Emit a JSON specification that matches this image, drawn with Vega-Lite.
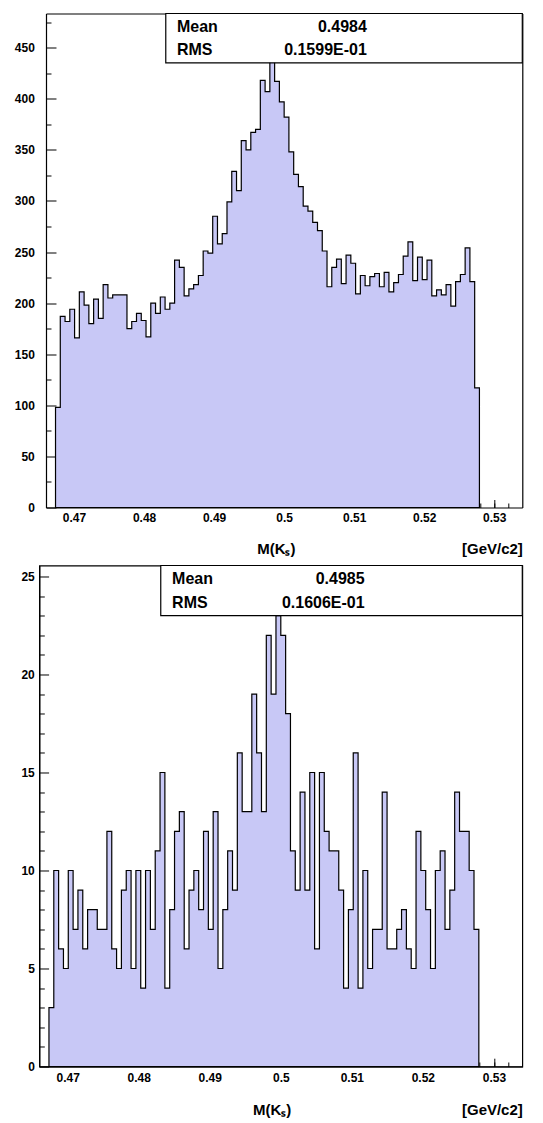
{
  "$schema": "https://vega.github.io/schema/vega-lite/v6.json",
  "background": "white",
  "padding": {"left": 13.3, "top": 12.5, "right": 0, "bottom": 0},
  "columns": 1,
  "align": "none",
  "spacing": 6,
  "datasets": {
    "bins": [
      {"lo":0.46736,"hi":0.46804,"a":98,"b":3},
      {"lo":0.46804,"hi":0.46872,"a":187,"b":10},
      {"lo":0.46872,"hi":0.4694,"a":182,"b":6},
      {"lo":0.4694,"hi":0.47008,"a":194,"b":5},
      {"lo":0.47008,"hi":0.47076,"a":166,"b":10},
      {"lo":0.47076,"hi":0.47144,"a":211,"b":7},
      {"lo":0.47144,"hi":0.47212,"a":198,"b":9},
      {"lo":0.47212,"hi":0.4728,"a":180,"b":6},
      {"lo":0.4728,"hi":0.47348,"a":204,"b":8},
      {"lo":0.47348,"hi":0.47416,"a":185,"b":8},
      {"lo":0.47416,"hi":0.47484,"a":218,"b":7},
      {"lo":0.47484,"hi":0.47552,"a":205,"b":7},
      {"lo":0.47552,"hi":0.4762,"a":208,"b":12},
      {"lo":0.4762,"hi":0.47688,"a":208,"b":6},
      {"lo":0.47688,"hi":0.47756,"a":208,"b":5},
      {"lo":0.47756,"hi":0.47824,"a":175,"b":9},
      {"lo":0.47824,"hi":0.47892,"a":182,"b":10},
      {"lo":0.47892,"hi":0.4796,"a":190,"b":5},
      {"lo":0.4796,"hi":0.48028,"a":183,"b":10},
      {"lo":0.48028,"hi":0.48096,"a":167,"b":4},
      {"lo":0.48096,"hi":0.48164,"a":200,"b":10},
      {"lo":0.48164,"hi":0.48232,"a":190,"b":7},
      {"lo":0.48232,"hi":0.483,"a":206,"b":11},
      {"lo":0.483,"hi":0.48368,"a":194,"b":15},
      {"lo":0.48368,"hi":0.48436,"a":200,"b":4},
      {"lo":0.48436,"hi":0.48504,"a":242,"b":8},
      {"lo":0.48504,"hi":0.48572,"a":235,"b":12},
      {"lo":0.48572,"hi":0.4864,"a":207,"b":13},
      {"lo":0.4864,"hi":0.48708,"a":214,"b":6},
      {"lo":0.48708,"hi":0.48776,"a":218,"b":9},
      {"lo":0.48776,"hi":0.48844,"a":227,"b":10},
      {"lo":0.48844,"hi":0.48912,"a":251,"b":8},
      {"lo":0.48912,"hi":0.4898,"a":249,"b":12},
      {"lo":0.4898,"hi":0.49048,"a":285,"b":7},
      {"lo":0.49048,"hi":0.49116,"a":258,"b":13},
      {"lo":0.49116,"hi":0.49184,"a":268,"b":5},
      {"lo":0.49184,"hi":0.49252,"a":299,"b":8},
      {"lo":0.49252,"hi":0.4932,"a":329,"b":11},
      {"lo":0.4932,"hi":0.49388,"a":310,"b":9},
      {"lo":0.49388,"hi":0.49456,"a":359,"b":16},
      {"lo":0.49456,"hi":0.49524,"a":350,"b":13},
      {"lo":0.49524,"hi":0.49592,"a":367,"b":13},
      {"lo":0.49592,"hi":0.4966,"a":370,"b":19},
      {"lo":0.4966,"hi":0.49728,"a":418,"b":16},
      {"lo":0.49728,"hi":0.49796,"a":407,"b":13},
      {"lo":0.49796,"hi":0.49864,"a":437,"b":22},
      {"lo":0.49864,"hi":0.49932,"a":417,"b":19},
      {"lo":0.49932,"hi":0.5,"a":397,"b":23},
      {"lo":0.5,"hi":0.50068,"a":382,"b":22},
      {"lo":0.50068,"hi":0.50136,"a":348,"b":18},
      {"lo":0.50136,"hi":0.50204,"a":326,"b":11},
      {"lo":0.50204,"hi":0.50272,"a":314,"b":9},
      {"lo":0.50272,"hi":0.5034,"a":295,"b":14},
      {"lo":0.5034,"hi":0.50408,"a":290,"b":9},
      {"lo":0.50408,"hi":0.50476,"a":279,"b":15},
      {"lo":0.50476,"hi":0.50544,"a":271,"b":6},
      {"lo":0.50544,"hi":0.50612,"a":251,"b":15},
      {"lo":0.50612,"hi":0.5068,"a":216,"b":12},
      {"lo":0.5068,"hi":0.50748,"a":235,"b":11},
      {"lo":0.50748,"hi":0.50816,"a":243,"b":11},
      {"lo":0.50816,"hi":0.50884,"a":219,"b":9},
      {"lo":0.50884,"hi":0.50952,"a":247,"b":4},
      {"lo":0.50952,"hi":0.5102,"a":239,"b":8},
      {"lo":0.5102,"hi":0.51088,"a":209,"b":16},
      {"lo":0.51088,"hi":0.51156,"a":227,"b":4},
      {"lo":0.51156,"hi":0.51224,"a":217,"b":10},
      {"lo":0.51224,"hi":0.51292,"a":226,"b":5},
      {"lo":0.51292,"hi":0.5136,"a":229,"b":7},
      {"lo":0.5136,"hi":0.51428,"a":216,"b":7},
      {"lo":0.51428,"hi":0.51496,"a":230,"b":14},
      {"lo":0.51496,"hi":0.51564,"a":211,"b":6},
      {"lo":0.51564,"hi":0.51632,"a":220,"b":6},
      {"lo":0.51632,"hi":0.517,"a":228,"b":7},
      {"lo":0.517,"hi":0.51768,"a":246,"b":8},
      {"lo":0.51768,"hi":0.51836,"a":260,"b":6},
      {"lo":0.51836,"hi":0.51904,"a":222,"b":5},
      {"lo":0.51904,"hi":0.51972,"a":245,"b":12},
      {"lo":0.51972,"hi":0.5204,"a":223,"b":10},
      {"lo":0.5204,"hi":0.52108,"a":242,"b":8},
      {"lo":0.52108,"hi":0.52176,"a":207,"b":5},
      {"lo":0.52176,"hi":0.52244,"a":213,"b":10},
      {"lo":0.52244,"hi":0.52312,"a":208,"b":11},
      {"lo":0.52312,"hi":0.5238,"a":218,"b":7},
      {"lo":0.5238,"hi":0.52448,"a":197,"b":9},
      {"lo":0.52448,"hi":0.52516,"a":221,"b":14},
      {"lo":0.52516,"hi":0.52584,"a":228,"b":12},
      {"lo":0.52584,"hi":0.52652,"a":254,"b":12},
      {"lo":0.52652,"hi":0.5272,"a":221,"b":10},
      {"lo":0.5272,"hi":0.52788,"a":117,"b":7}
    ],
    "stats": [
      {"panel":"a","name":"Mean","value":"0.4984"},
      {"panel":"a","name":"RMS","value":"0.1599E-01"},
      {"panel":"b","name":"Mean","value":"0.4985"},
      {"panel":"b","name":"RMS","value":"0.1606E-01"}
    ]
  },
  "concat": [
    {
      "width": 483,
      "height": 494,
      "view": {"stroke": null},
      "resolve": {"axis": {"x": "independent", "y": "independent"}},
      "layer": [
        {
          "data": {"name": "bins"},
          "transform": [{"fold": ["lo", "hi"], "as": ["edge", "m"]}],
          "mark": {"type": "area", "fill": "#c8c8f6", "fillOpacity": 1, "stroke": "black", "strokeWidth": 1.2},
          "encoding": {
            "x": {"field": "m", "type": "quantitative",
              "scale": {"domain": [0.466, 0.534], "nice": false, "zero": false, "range": [6.7, 483]},
              "axis": {"values": [0.47, 0.48, 0.49, 0.5, 0.51, 0.52, 0.53], "format": "~g", "tickSize": -8, "labelPadding": 13.3,
                "title": "M(K\u209b)\u00a0\u00a0\u00a0\u00a0\u00a0\u00a0\u00a0\u00a0\u00a0\u00a0\u00a0\u00a0\u00a0\u00a0\u00a0\u00a0\u00a0\u00a0\u00a0\u00a0\u00a0\u00a0\u00a0\u00a0\u00a0\u00a0\u00a0\u00a0\u00a0\u00a0\u00a0\u00a0\u00a0\u00a0\u00a0\u00a0\u00a0\u00a0\u00a0\u00a0[GeV/c2]",
                "titleAnchor": "end", "titlePadding": 18}},
            "y": {"field": "a", "type": "quantitative", "stack": null,
              "scale": {"domain": [0, 483.4], "nice": false, "zero": false},
              "axis": {"values": [0, 50, 100, 150, 200, 250, 300, 350, 400, 450], "tickSize": -10, "labelPadding": 21.7, "offset": -6.7, "title": null, "minExtent": 0}}
          }
        },
        {
          "data": {"name": "stats"},
          "transform": [{"filter": "datum.panel == 'a' && datum.name == 'Mean'"}],
          "mark": {"type": "rect", "fill": "white", "stroke": "black", "strokeWidth": 1.2},
          "encoding": {
            "x": {"datum": 0.4831, "type": "quantitative", "axis": null},
            "x2": {"datum": 0.534},
            "y": {"datum": 435.1, "type": "quantitative", "axis": null},
            "y2": {"datum": 483.4}
          }
        },
        {
          "data": {"name": "stats"},
          "transform": [{"filter": "datum.panel == 'a' && datum.name == 'Mean'"}],
          "mark": {"type": "text", "align": "left", "baseline": "middle", "fontSize": 16, "fontWeight": "bold", "color": "black"},
          "encoding": {
            "x": {"datum": 0.4847, "type": "quantitative", "axis": null},
            "y": {"datum": 470.5, "type": "quantitative", "axis": null},
            "text": {"field": "name"}
          }
        },
        {
          "data": {"name": "stats"},
          "transform": [{"filter": "datum.panel == 'a' && datum.name == 'Mean'"}],
          "mark": {"type": "text", "align": "right", "baseline": "middle", "fontSize": 16, "fontWeight": "bold", "color": "black"},
          "encoding": {
            "x": {"datum": 0.5118, "type": "quantitative", "axis": null},
            "y": {"datum": 470.5, "type": "quantitative", "axis": null},
            "text": {"field": "value"}
          }
        },
        {
          "data": {"name": "stats"},
          "transform": [{"filter": "datum.panel == 'a' && datum.name == 'RMS'"}],
          "mark": {"type": "text", "align": "left", "baseline": "middle", "fontSize": 16, "fontWeight": "bold", "color": "black"},
          "encoding": {
            "x": {"datum": 0.4847, "type": "quantitative", "axis": null},
            "y": {"datum": 447.7, "type": "quantitative", "axis": null},
            "text": {"field": "name"}
          }
        },
        {
          "data": {"name": "stats"},
          "transform": [{"filter": "datum.panel == 'a' && datum.name == 'RMS'"}],
          "mark": {"type": "text", "align": "right", "baseline": "middle", "fontSize": 16, "fontWeight": "bold", "color": "black"},
          "encoding": {
            "x": {"datum": 0.5118, "type": "quantitative", "axis": null},
            "y": {"datum": 447.7, "type": "quantitative", "axis": null},
            "text": {"field": "value"}
          }
        },
        {
          "data": {"name": "bins"},
          "mark": {"type": "point", "opacity": 0},
          "encoding": {
            "x": {"field": "lo", "type": "quantitative",
              "axis": {"orient": "bottom", "values": [0.468,0.47,0.472,0.474,0.476,0.478,0.48,0.482,0.484,0.486,0.488,0.49,0.492,0.494,0.496,0.498,0.5,0.502,0.504,0.506,0.508,0.51,0.512,0.514,0.516,0.518,0.52,0.522,0.524,0.526,0.528,0.53,0.532],
                "tickSize": -4.5, "labels": false, "domain": false, "title": null, "minExtent": 0, "maxExtent": 0}},
            "y": {"field": "a", "type": "quantitative",
              "axis": {"orient": "left", "offset": -6.7, "values": [25, 75, 125, 175, 225, 275, 325, 375, 425, 475], "tickSize": -5, "labels": false, "domain": false, "title": null, "minExtent": 0, "maxExtent": 0}}
          }
        },
        {
          "data": {"name": "bins"},
          "mark": {"type": "point", "opacity": 0},
          "encoding": {
            "x": {"field": "lo", "type": "quantitative",
              "axis": {"orient": "top", "ticks": false, "labels": false, "domain": true, "title": null, "minExtent": 0, "maxExtent": 0}},
            "y": {"field": "a", "type": "quantitative",
              "axis": {"orient": "right", "ticks": false, "labels": false, "domain": true, "title": null, "minExtent": 0, "maxExtent": 0}}
          }
        }
      ]
    },
    {
      "width": 483,
      "height": 501,
      "resolve": {"axis": {"x": "independent", "y": "independent"}},
      "layer": [
        {
          "data": {"name": "bins"},
          "transform": [{"fold": ["lo", "hi"], "as": ["edge", "m"]}],
          "mark": {"type": "area", "fill": "#c8c8f6", "fillOpacity": 1, "stroke": "black", "strokeWidth": 1.2},
          "encoding": {
            "x": {"field": "m", "type": "quantitative",
              "scale": {"domain": [0.466, 0.534], "nice": false, "zero": false},
              "axis": {"values": [0.47, 0.48, 0.49, 0.5, 0.51, 0.52, 0.53], "format": "~g", "tickSize": -8.3, "labelPadding": 14.6,
                "title": "M(K\u209b)\u00a0\u00a0\u00a0\u00a0\u00a0\u00a0\u00a0\u00a0\u00a0\u00a0\u00a0\u00a0\u00a0\u00a0\u00a0\u00a0\u00a0\u00a0\u00a0\u00a0\u00a0\u00a0\u00a0\u00a0\u00a0\u00a0\u00a0\u00a0\u00a0\u00a0\u00a0\u00a0\u00a0\u00a0\u00a0\u00a0\u00a0\u00a0\u00a0\u00a0\u00a0[GeV/c2]",
                "titleAnchor": "end", "titlePadding": 19}},
            "y": {"field": "b", "type": "quantitative", "stack": null,
              "scale": {"domain": [0, 25.56], "nice": false, "zero": false},
              "axis": {"values": [0, 5, 10, 15, 20, 25], "tickSize": -9.3, "labelPadding": 14.3, "title": null, "minExtent": 25, "maxExtent": 25}}
          }
        },
        {
          "data": {"name": "stats"},
          "transform": [{"filter": "datum.panel == 'b' && datum.name == 'Mean'"}],
          "mark": {"type": "rect", "fill": "white", "stroke": "black", "strokeWidth": 1.2},
          "encoding": {
            "x": {"datum": 0.4831, "type": "quantitative", "axis": null},
            "x2": {"datum": 0.534},
            "y": {"datum": 23.0, "type": "quantitative", "axis": null},
            "y2": {"datum": 25.56}
          }
        },
        {
          "data": {"name": "stats"},
          "transform": [{"filter": "datum.panel == 'b' && datum.name == 'Mean'"}],
          "mark": {"type": "text", "align": "left", "baseline": "middle", "fontSize": 16, "fontWeight": "bold", "color": "black"},
          "encoding": {
            "x": {"datum": 0.4847, "type": "quantitative", "axis": null},
            "y": {"datum": 24.88, "type": "quantitative", "axis": null},
            "text": {"field": "name"}
          }
        },
        {
          "data": {"name": "stats"},
          "transform": [{"filter": "datum.panel == 'b' && datum.name == 'Mean'"}],
          "mark": {"type": "text", "align": "right", "baseline": "middle", "fontSize": 16, "fontWeight": "bold", "color": "black"},
          "encoding": {
            "x": {"datum": 0.5118, "type": "quantitative", "axis": null},
            "y": {"datum": 24.88, "type": "quantitative", "axis": null},
            "text": {"field": "value"}
          }
        },
        {
          "data": {"name": "stats"},
          "transform": [{"filter": "datum.panel == 'b' && datum.name == 'RMS'"}],
          "mark": {"type": "text", "align": "left", "baseline": "middle", "fontSize": 16, "fontWeight": "bold", "color": "black"},
          "encoding": {
            "x": {"datum": 0.4847, "type": "quantitative", "axis": null},
            "y": {"datum": 23.63, "type": "quantitative", "axis": null},
            "text": {"field": "name"}
          }
        },
        {
          "data": {"name": "stats"},
          "transform": [{"filter": "datum.panel == 'b' && datum.name == 'RMS'"}],
          "mark": {"type": "text", "align": "right", "baseline": "middle", "fontSize": 16, "fontWeight": "bold", "color": "black"},
          "encoding": {
            "x": {"datum": 0.5118, "type": "quantitative", "axis": null},
            "y": {"datum": 23.63, "type": "quantitative", "axis": null},
            "text": {"field": "value"}
          }
        },
        {
          "data": {"name": "bins"},
          "mark": {"type": "point", "opacity": 0},
          "encoding": {
            "x": {"field": "lo", "type": "quantitative",
              "axis": {"orient": "bottom", "values": [0.468,0.47,0.472,0.474,0.476,0.478,0.48,0.482,0.484,0.486,0.488,0.49,0.492,0.494,0.496,0.498,0.5,0.502,0.504,0.506,0.508,0.51,0.512,0.514,0.516,0.518,0.52,0.522,0.524,0.526,0.528,0.53,0.532],
                "tickSize": -4.5, "labels": false, "domain": false, "title": null, "minExtent": 0, "maxExtent": 0}},
            "y": {"field": "b", "type": "quantitative",
              "axis": {"orient": "left", "values": [1,2,3,4,6,7,8,9,11,12,13,14,16,17,18,19,21,22,23,24], "tickSize": -5, "labels": false, "domain": false, "title": null, "minExtent": 0, "maxExtent": 0}}
          }
        }
      ]
    }
  ],
  "config": {
    "font": "Liberation Sans",
    "view": {"stroke": "black", "strokeWidth": 1.2},
    "text": {"font": "Liberation Sans"},
    "axis": {"grid": false, "domainColor": "black", "domainWidth": 1.2, "tickColor": "black", "tickWidth": 1, "labelColor": "black", "labelFont": "Liberation Sans", "labelFontSize": 12, "labelFontWeight": "bold", "titleColor": "black", "titleFont": "Liberation Sans", "titleFontSize": 15, "titleFontWeight": "bold", "zindex": 1, "labelFlush": false, "labelOverlap": false}
  }
}
